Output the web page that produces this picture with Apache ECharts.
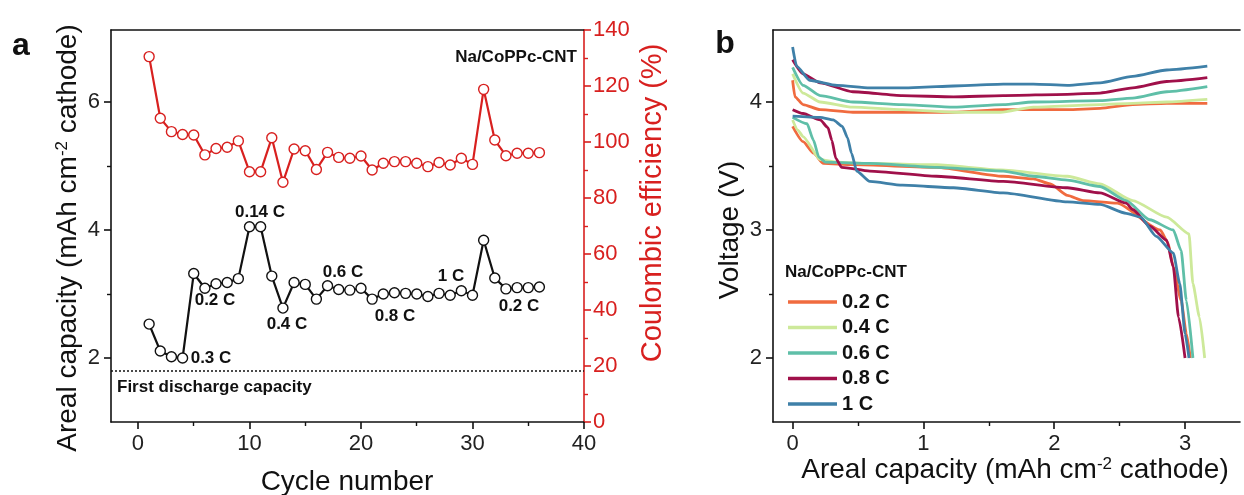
<!DOCTYPE html>
<html>
<head>
<meta charset="utf-8">
<script src="https://cdn.jsdelivr.net/npm/echarts@6/dist/echarts.min.js"></script>
<style>
  html, body { margin: 0; padding: 0; background: #fff; }
  #main { width: 1244px; height: 495px; }
</style>
</head>
<body>
<div id="main"></div>
<script>
// ---- panel a data ----
var cycles = [];
for (var c = 1; c <= 36; c++) cycles.push(c);
var capacity = [2.53, 2.11, 2.02, 2.00, 3.32, 3.09, 3.16, 3.18, 3.24, 4.05, 4.05, 3.28, 2.78, 3.18, 3.15, 2.92, 3.13, 3.07,
                3.06, 3.09, 2.92, 3.00, 3.02, 3.01, 3.00, 2.96, 3.01, 2.98, 3.05, 2.98, 3.84, 3.25, 3.08, 3.10, 3.10, 3.11];
var efficiency = [130.5, 108.5, 103.7, 102.7, 102.5, 95.4, 97.7, 98.1, 100.4, 89.4, 89.4, 101.5, 85.6, 97.5, 96.9, 90.2, 96.3, 94.5,
                  94.2, 95.0, 90.0, 92.4, 93.0, 93.0, 92.4, 91.2, 92.7, 91.8, 94.2, 92.0, 118.8, 100.7, 95.1, 96.0, 96.0, 96.2];
var firstDischarge = 1.8;
var capTicks = [2, 4, 6], capMinor = [3, 5];
var cycleTicks = [0, 10, 20, 30, 40], cycleMinor = [5, 15, 25, 35];

// ---- panel b data: [capacity, voltage] ----
var rates = ['0.2 C', '0.4 C', '0.6 C', '0.8 C', '1 C'];
var charge02 = [[0,4.17],[0.018,4.04],[0.08,3.98],[0.21,3.94],[0.46,3.92],[0.84,3.92],[1.23,3.92],[1.61,3.94],[1.84,3.94],[2.10,3.94],[2.35,3.95],[2.60,3.98],[2.86,3.99],[3.17,3.99]];
var charge04 = [[0,4.22],[0.08,4.07],[0.21,4.00],[0.46,3.96],[0.84,3.94],[1.23,3.92],[1.59,3.92],[1.84,3.96],[2.35,3.98],[2.60,3.99],[2.86,4.00],[3.17,4.02]];
var charge06 = [[0,4.27],[0.08,4.13],[0.21,4.05],[0.46,4.00],[0.84,3.98],[1.23,3.96],[1.61,3.98],[1.84,4.00],[2.35,4.01],[2.60,4.03],[2.86,4.08],[3.17,4.12]];
var charge08 = [[0,4.33],[0.08,4.22],[0.21,4.15],[0.46,4.08],[0.84,4.05],[1.23,4.04],[1.61,4.05],[2.10,4.06],[2.35,4.07],[2.60,4.11],[2.86,4.16],[3.17,4.19]];
var charge10 = [[0,4.43],[0.03,4.28],[0.13,4.17],[0.34,4.13],[0.59,4.11],[0.84,4.11],[1.10,4.12],[1.36,4.13],[1.61,4.14],[1.84,4.14],[2.10,4.13],[2.35,4.15],[2.60,4.20],[2.86,4.25],[3.17,4.28]];
var discharge02 = [[0,3.81],[0.08,3.69],[0.16,3.60],[0.235,3.52],[0.46,3.51],[1.10,3.49],[1.61,3.42],[1.84,3.40],[1.97,3.36],[2.10,3.27],[2.22,3.23],[2.48,3.21],[2.81,3.00],[2.87,2.90],[2.91,2.71],[2.97,2.45],[3.01,2.19],[3.04,2.00]];
var discharge04 = [[0,3.86],[0.04,3.78],[0.08,3.73],[0.21,3.55],[0.34,3.53],[0.59,3.52],[1.10,3.51],[1.59,3.47],[2.10,3.42],[2.35,3.36],[2.60,3.23],[2.86,3.10],[3.03,2.97],[3.06,2.58],[3.11,2.32],[3.15,2.00]];
var discharge06 = [[0,3.88],[0.11,3.83],[0.16,3.70],[0.20,3.57],[0.25,3.53],[0.59,3.52],[1.10,3.49],[1.61,3.46],[1.84,3.42],[2.10,3.39],[2.35,3.34],[2.55,3.23],[2.73,3.08],[2.91,3.00],[2.97,2.84],[3.01,2.45],[3.06,2.00]];
var discharge08 = [[0,3.94],[0.08,3.91],[0.21,3.86],[0.27,3.80],[0.30,3.70],[0.33,3.56],[0.375,3.49],[0.59,3.46],[1.10,3.42],[1.61,3.38],[2.10,3.33],[2.35,3.29],[2.55,3.21],[2.60,3.16],[2.73,3.03],[2.86,2.92],[2.91,2.71],[2.95,2.32],[3.00,2.00]];
var discharge10 = [[0,3.89],[0.21,3.88],[0.31,3.86],[0.38,3.81],[0.42,3.72],[0.45,3.60],[0.49,3.46],[0.59,3.38],[0.84,3.35],[1.23,3.33],[1.61,3.29],[2.10,3.22],[2.35,3.20],[2.55,3.13],[2.66,3.10],[2.78,2.95],[2.91,2.82],[2.96,2.58],[3.00,2.19],[3.03,2.00]];
var voltTicks = [2, 3, 4], voltMinor = [2.5, 3.5];
var areaTicks = [0, 1, 2, 3], areaMinor = [0.5, 1.5, 2.5];

var chargeCurves = [charge02, charge04, charge06, charge08, charge10];
var dischargeCurves = [discharge02, discharge04, discharge06, discharge08, discharge10];
var rateColors = ['#f06b3f', '#cde99a', '#5fbfa8', '#a0104a', '#3f80a8'];

var FONT = 'Liberation Sans, Arial, sans-serif';
var RED = '#d8201f';

var myChart = echarts.init(document.getElementById('main'));

// axis helpers
function mainAxis(grid, pos, min, max, ticks, color) {
    return {
        type: 'value', gridIndex: grid, position: pos, min: min, max: max,
        axisLine: { show: true, onZero: false, lineStyle: { color: color || '#111', width: 1.6 } },
        axisTick: { show: true, length: 7, customValues: ticks, lineStyle: { color: color || '#111', width: 1.6 } },
        axisLabel: { show: true, customValues: ticks, margin: 11, color: color || '#222', fontSize: 22, fontFamily: FONT },
        splitLine: { show: false }
    };
}
function minorAxis(grid, pos, min, max, ticks, color) {
    return {
        type: 'value', gridIndex: grid, position: pos, min: min, max: max,
        axisLine: { show: false, onZero: false },
        axisTick: { show: true, length: 4, customValues: ticks, lineStyle: { color: color || '#111', width: 1.4 } },
        axisLabel: { show: false },
        splitLine: { show: false }
    };
}
function frameAxis(grid, pos, min, max) {
    return {
        type: 'value', gridIndex: grid, position: pos, min: min, max: max,
        axisLine: { show: true, onZero: false, lineStyle: { color: '#111', width: 1.6 } },
        axisTick: { show: false }, axisLabel: { show: false }, splitLine: { show: false }
    };
}

var series = [];
// panel a
series.push({
    name: 'capacity', type: 'line', xAxisIndex: 0, yAxisIndex: 0,
    data: cycles.map(function (c, i) { return [c, capacity[i]]; }),
    symbol: 'circle', symbolSize: 10, z: 5,
    lineStyle: { color: '#111', width: 2.2 },
    itemStyle: { color: '#fff', borderColor: '#111', borderWidth: 1.4 },
    markLine: {
        silent: true, symbol: 'none', label: { show: false },
        lineStyle: { color: '#111', type: [2, 2], width: 1.5 },
        data: [{ yAxis: firstDischarge }]
    }
});
series.push({
    name: 'efficiency', type: 'line', xAxisIndex: 0, yAxisIndex: 2,
    data: cycles.map(function (c, i) { return [c, efficiency[i]]; }),
    symbol: 'circle', symbolSize: 10, z: 5,
    lineStyle: { color: RED, width: 2.2 },
    itemStyle: { color: '#fff', borderColor: RED, borderWidth: 1.4 }
});
// panel b
rates.forEach(function (r, i) {
    [chargeCurves[i], dischargeCurves[i]].forEach(function (curve) {
        series.push({
            name: r, type: 'line', xAxisIndex: 3, yAxisIndex: 3,
            data: curve, showSymbol: false, symbol: 'none',
            smooth: 0.2, smoothMonotone: 'x',
            color: rateColors[i],
            lineStyle: { color: rateColors[i], width: 2.8 }
        });
    });
});

function label(text, x, y, opts) {
    opts = opts || {};
    return {
        type: 'text', x: x, y: y, rotation: opts.rotation || 0, z: 10,
        style: {
            text: text, fill: opts.color || '#111',
            font: (opts.weight || 'bold') + ' ' + (opts.size || 17) + 'px ' + FONT,
            align: opts.align || 'center', verticalAlign: 'middle',
            rich: opts.rich
        }
    };
}
var supRich = { sup: { fontSize: 17, fontFamily: FONT, verticalAlign: 'bottom', padding: [0, 0, 12, 0], fill: '#111' } };

var option = {
    animation: false,
    backgroundColor: '#fff',
    grid: [
        { left: 111, top: 30, width: 473, height: 392 },
        { left: 773, top: 30, width: 467, height: 392 }
    ],
    xAxis: [
        mainAxis(0, 'bottom', -2.42, 40, cycleTicks),
        minorAxis(0, 'bottom', -2.42, 40, cycleMinor),
        frameAxis(0, 'top', -2.42, 40),
        mainAxis(1, 'bottom', -0.15, 3.42, areaTicks),
        minorAxis(1, 'bottom', -0.15, 3.42, areaMinor),
        frameAxis(1, 'top', -0.15, 3.42)
    ],
    yAxis: [
        mainAxis(0, 'left', 1, 7.125, capTicks),
        minorAxis(0, 'left', 1, 7.125, capMinor),
        {
            type: 'value', gridIndex: 0, position: 'right', min: 0, max: 140, interval: 20,
            axisLine: { show: true, onZero: false, lineStyle: { color: RED, width: 1.6 } },
            axisTick: { show: true, length: 7, lineStyle: { color: RED, width: 1.6 } },
            minorTick: { show: true, splitNumber: 2, length: 4, lineStyle: { color: RED, width: 1.4 } },
            axisLabel: { margin: 9, color: RED, fontSize: 22, fontFamily: FONT },
            splitLine: { show: false }
        },
        mainAxis(1, 'left', 1.5, 4.5625, voltTicks),
        minorAxis(1, 'left', 1.5, 4.5625, voltMinor)
    ],
    legend: {
        data: rates, orient: 'vertical', left: 783, top: 287,
        icon: 'rect', itemWidth: 49, itemHeight: 3.5, itemGap: 5.5,
        selectedMode: false,
        textStyle: { fontSize: 20, fontWeight: 'bold', fontFamily: FONT, color: '#111', lineHeight: 20 }
    },
    graphic: [
        label('a', 21, 46, { size: 32 }),
        label('b', 725, 44, { size: 32 }),
        label('Cycle number', 347, 482, { size: 28, weight: 'normal' }),
        label('Areal capacity (mAh cm{sup|-2} cathode)', 68, 238, { size: 28, weight: 'normal', rotation: Math.PI / 2, rich: supRich }),
        label('Coulombic efficiency (%)', 653, 203, { size: 29, weight: 'normal', rotation: Math.PI / 2, color: RED }),
        label('Voltage (V)', 730, 230, { size: 28, weight: 'normal', rotation: Math.PI / 2 }),
        label('Areal capacity (mAh cm{sup|-2} cathode)', 1015, 470, { size: 28, weight: 'normal', rich: supRich }),
        label('Na/CoPPc-CNT', 577, 57, { align: 'right' }),
        label('First discharge capacity', 117, 387, { align: 'left' }),
        label('0.14 C', 260, 212),
        label('0.2 C', 215, 300),
        label('0.3 C', 211, 358),
        label('0.4 C', 287, 324),
        label('0.6 C', 343, 272),
        label('0.8 C', 395, 316),
        label('1 C', 451, 276),
        label('0.2 C', 519, 306),
        label('Na/CoPPc-CNT', 785, 272, { align: 'left' })
    ],
    series: series
};

myChart.setOption(option);
</script>
</body>
</html>
